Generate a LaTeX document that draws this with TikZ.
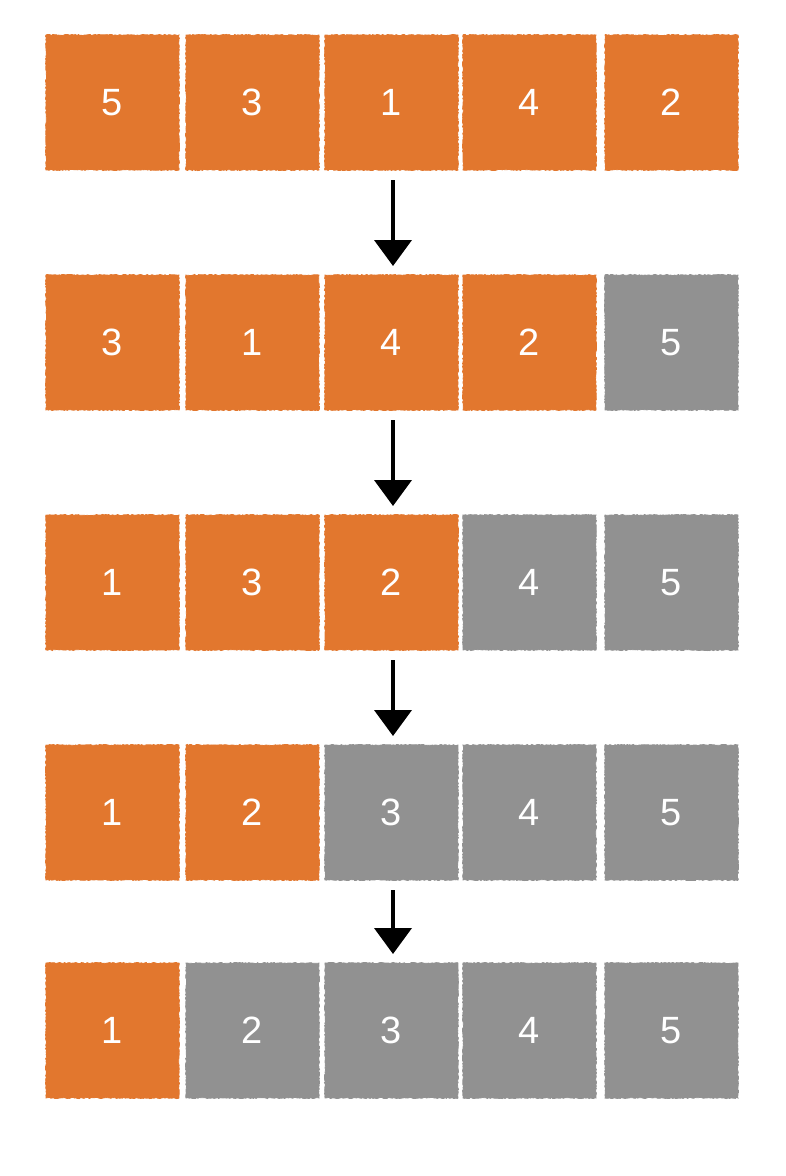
\documentclass[tikz,border=0pt]{standalone}
\usepackage{fontspec}
\setmainfont{Liberation Sans}
\usetikzlibrary{arrows.meta,decorations.pathmorphing}
\definecolor{sortorange}{HTML}{E2772E}
\definecolor{sortgray}{HTML}{919191}
\tikzset{
  cell/.style={minimum width=133pt, minimum height=135pt, inner sep=0pt,
    text=white, font=\fontsize{38}{40}\selectfont,
    draw, line width=0.8pt, decorate, decoration={random steps, segment length=1.5pt, amplitude=0.6pt}},
  oc/.style={cell, fill=sortorange, draw=sortorange},
  gc/.style={cell, fill=sortgray, draw=sortgray},
  flow/.style={line width=4pt, draw=black, -{Triangle[width=37pt,length=26pt]}}
}
\begin{document}
\begin{tikzpicture}[x=1pt,y=-1pt]
\useasboundingbox (0,0) rectangle (786,1176);
% row 1
\node[oc] (r1c1) at (112.5,102.5) {5};
\node[oc] (r1c2) at (252.5,102.5) {3};
\node[oc] (r1c3) at (391.5,102.5) {1};
\node[oc] (r1c4) at (529.5,102.5) {4};
\node[oc] (r1c5) at (671.5,102.5) {2};
% row 2
\node[oc] (r2c1) at (112.5,342.5) {3};
\node[oc] (r2c2) at (252.5,342.5) {1};
\node[oc] (r2c3) at (391.5,342.5) {4};
\node[oc] (r2c4) at (529.5,342.5) {2};
\node[gc] (r2c5) at (671.5,342.5) {5};
% row 3
\node[oc] (r3c1) at (112.5,582.5) {1};
\node[oc] (r3c2) at (252.5,582.5) {3};
\node[oc] (r3c3) at (391.5,582.5) {2};
\node[gc] (r3c4) at (529.5,582.5) {4};
\node[gc] (r3c5) at (671.5,582.5) {5};
% row 4
\node[oc] (r4c1) at (112.5,812.5) {1};
\node[oc] (r4c2) at (252.5,812.5) {2};
\node[gc] (r4c3) at (391.5,812.5) {3};
\node[gc] (r4c4) at (529.5,812.5) {4};
\node[gc] (r4c5) at (671.5,812.5) {5};
% row 5
\node[oc] (r5c1) at (112.5,1030.5) {1};
\node[gc] (r5c2) at (252.5,1030.5) {2};
\node[gc] (r5c3) at (391.5,1030.5) {3};
\node[gc] (r5c4) at (529.5,1030.5) {4};
\node[gc] (r5c5) at (671.5,1030.5) {5};
% arrows
\coordinate (a1s) at (393,180);  \coordinate (a1e) at (393,266);
\coordinate (a2s) at (393,420);  \coordinate (a2e) at (393,506);
\coordinate (a3s) at (393,660);  \coordinate (a3e) at (393,736);
\coordinate (a4s) at (393,890);  \coordinate (a4e) at (393,954);
\draw[flow] (a1s) -- (a1e);
\draw[flow] (a2s) -- (a2e);
\draw[flow] (a3s) -- (a3e);
\draw[flow] (a4s) -- (a4e);
\end{tikzpicture}
\end{document}
